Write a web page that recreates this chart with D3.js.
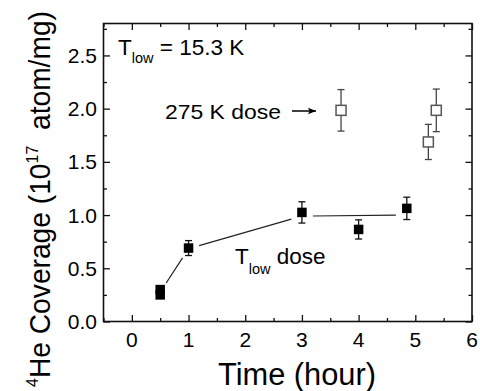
<!DOCTYPE html>
<html>
<head>
<meta charset="utf-8">
<script src="https://cdn.jsdelivr.net/npm/d3@7"></script>
<style>
  body { margin: 0; background: #fff; }
  text { font-family: "Liberation Sans", Arial, sans-serif; fill: #000; }
</style>
</head>
<body>
<svg id="chart" width="480" height="391"></svg>
<script>
let width = 480, height = 391;
let margin = {left: 103.5, top: 23.5, right: 8, bottom: 69.5};

// T_low dose points (filled squares)
let lowTime = [0.5, 0.5, 1.0, 3.0, 4.0, 4.85];
let lowCov = [0.30, 0.25, 0.69, 1.025, 0.865, 1.063];
let lowErr = [0.02, 0.02, 0.07, 0.10, 0.09, 0.105];

// 275 K dose points (open squares)
let warmTime = [3.69, 5.23, 5.37];
let warmCov = [1.984, 1.687, 1.984];
let warmErr = [0.195, 0.165, 0.2];

// guide to the eye through the T_low points
let guideTime = [0.5, 1.0, 3.0, 4.85];
let guideCov = [0.275, 0.685, 0.99, 1.0];

let xTicks = [0, 1, 2, 3, 4, 5, 6];
let xMinor = [-0.5, 0.5, 1.5, 2.5, 3.5, 4.5, 5.5];
let yTicks = [0, 0.5, 1.0, 1.5, 2.0, 2.5];
let yMinor = [0.25, 0.75, 1.25, 1.75, 2.25, 2.75];

let w = width - margin.left - margin.right,
    h = height - margin.top - margin.bottom;

var x = d3.scaleLinear().domain([-0.5, 6]).range([0, w]);
var y = d3.scaleLinear().domain([0, 2.8]).range([h, 0]);

var svg = d3.select('#chart');
var g = svg.append('g')
    .attr('transform', 'translate(' + margin.left + ',' + margin.top + ')');

// ticks on all four sides, pointing inward
function ticks(axis, vals, size, tx) {
  var a = g.append('g')
      .attr('transform', tx)
      .call(axis.tickValues(vals).tickSizeInner(size).tickSizeOuter(0).tickFormat(''));
  a.select('.domain').remove();
  a.selectAll('line').attr('stroke', '#111').attr('stroke-width', 1.3);
}
ticks(d3.axisBottom(x), xTicks, -6.5, 'translate(0,' + h + ')');
ticks(d3.axisBottom(x), xMinor, -3.5, 'translate(0,' + h + ')');
ticks(d3.axisTop(x), xTicks, -6.5, 'translate(0,0)');
ticks(d3.axisTop(x), xMinor, -3.5, 'translate(0,0)');
ticks(d3.axisLeft(y), yTicks, -6.5, 'translate(0,0)');
ticks(d3.axisLeft(y), yMinor, -3.5, 'translate(0,0)');
ticks(d3.axisRight(y), yTicks, -6.5, 'translate(' + w + ',0)');
ticks(d3.axisRight(y), yMinor, -3.5, 'translate(' + w + ',0)');

g.append('rect')
    .attr('width', w).attr('height', h)
    .attr('fill', 'none').attr('stroke', '#111').attr('stroke-width', 1.6);

// tick labels
g.selectAll('.xlab').data(xTicks).enter().append('text')
    .attr('x', d => x(d)).attr('y', h + 25.5)
    .attr('text-anchor', 'middle').attr('font-size', 21)
    .text(d => d);
g.selectAll('.ylab').data(yTicks).enter().append('text')
    .attr('x', -6.5).attr('y', d => y(d) + 7.5)
    .attr('text-anchor', 'end').attr('font-size', 21)
    .text(d => d.toFixed(1));

// axis titles
svg.append('text')
    .attr('x', 297).attr('y', 385)
    .attr('text-anchor', 'middle').attr('font-size', 31)
    .attr('textLength', 158).attr('lengthAdjust', 'spacingAndGlyphs')
    .text('Time (hour)');

var yt = svg.append('text')
    .attr('transform', 'translate(50,199) rotate(-90)')
    .attr('text-anchor', 'middle').attr('font-size', 30)
    .attr('textLength', 376).attr('lengthAdjust', 'spacingAndGlyphs');
yt.append('tspan').attr('font-size', 17).attr('dy', -12).text('4');
yt.append('tspan').attr('dy', 12).text('He Coverage (10');
yt.append('tspan').attr('font-size', 17).attr('dy', -12).text('17');
yt.append('tspan').attr('dy', 12).text('\u00a0 atom/mg)');

// guide line, drawn as segments with gaps round the markers
var gap = 11;
for (let i = 0; i < guideTime.length - 1; i++) {
  let x1 = x(guideTime[i]), y1 = y(guideCov[i]);
  let x2 = x(guideTime[i + 1]), y2 = y(guideCov[i + 1]);
  let len = Math.hypot(x2 - x1, y2 - y1);
  let ux = (x2 - x1) / len, uy = (y2 - y1) / len;
  g.append('line')
      .attr('x1', x1 + ux * gap).attr('y1', y1 + uy * gap)
      .attr('x2', x2 - ux * gap).attr('y2', y2 - uy * gap)
      .attr('stroke', '#222').attr('stroke-width', 1.2);
}

// error bars
function errorBars(times, covs, errs, color) {
  var eb = g.append('g').attr('stroke', color).attr('stroke-width', 1.3);
  times.forEach(function(t, i) {
    let cx = x(t), top = y(covs[i] + errs[i]), bot = y(covs[i] - errs[i]);
    eb.append('line').attr('x1', cx).attr('x2', cx).attr('y1', top).attr('y2', bot);
    eb.append('line').attr('x1', cx - 3.5).attr('x2', cx + 3.5).attr('y1', top).attr('y2', top);
    eb.append('line').attr('x1', cx - 3.5).attr('x2', cx + 3.5).attr('y1', bot).attr('y2', bot);
  });
}
errorBars(lowTime, lowCov, lowErr, '#111');
errorBars(warmTime, warmCov, warmErr, '#444');

// markers
g.selectAll('.low').data(lowTime).enter().append('rect')
    .attr('x', d => x(d) - 4.75)
    .attr('y', (d, i) => y(lowCov[i]) - 4.75)
    .attr('width', 9.5).attr('height', 9.5)
    .attr('fill', '#000');

g.selectAll('.warm').data(warmTime).enter().append('rect')
    .attr('x', d => x(d) - 5)
    .attr('y', (d, i) => y(warmCov[i]) - 5)
    .attr('width', 10).attr('height', 10)
    .attr('fill', '#fff').attr('stroke', '#555').attr('stroke-width', 1.5);

// annotations
var t1 = svg.append('text').attr('x', 118).attr('y', 54.5).attr('font-size', 22.5);
t1.append('tspan').text('T');
t1.append('tspan').attr('font-size', 14.5).attr('dy', 8).text('low');
t1.append('tspan').attr('dy', -8).text(' = 15.3 K');

var t2 = svg.append('text').attr('x', 235).attr('y', 263.5).attr('font-size', 22.5);
t2.append('tspan').text('T');
t2.append('tspan').attr('font-size', 14.5).attr('dy', 10).text('low');
t2.append('tspan').attr('dy', -10).text(' dose');

svg.append('text').attr('x', 165).attr('y', 118.5).attr('font-size', 21)
    .attr('textLength', 116).attr('lengthAdjust', 'spacingAndGlyphs')
    .text('275 K dose');

svg.append('defs').append('marker')
    .attr('id', 'arrow').attr('viewBox', '0 0 10 10')
    .attr('refX', 10).attr('refY', 5)
    .attr('markerWidth', 10).attr('markerHeight', 8)
    .attr('markerUnits', 'userSpaceOnUse')
    .attr('orient', 'auto')
    .append('path').attr('d', 'M0,1 L10,5 L0,9 L2,5 Z').attr('fill', '#000');

svg.append('line')
    .attr('x1', 292).attr('y1', 111).attr('x2', 316).attr('y2', 111)
    .attr('stroke', '#000').attr('stroke-width', 1.5)
    .attr('marker-end', 'url(#arrow)');
</script>
</body>
</html>
